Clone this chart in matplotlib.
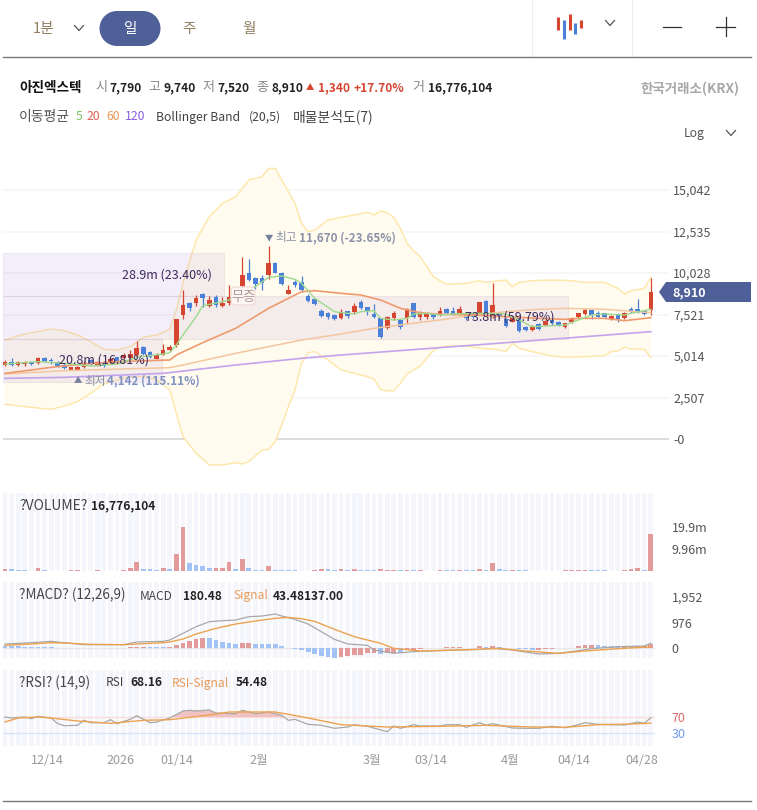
import matplotlib
matplotlib.use('Agg')
import matplotlib.pyplot as plt
from matplotlib.patches import FancyBboxPatch, Polygon
import numpy as np

plt.rcParams['font.family'] = ['Noto Sans CJK KR', 'DejaVu Sans']

# daily candles
opens = [4470,4630,4470,4530,4670,4610,4890,4770,4650,4470,
         4160,4170,4370,4770,4470,4610,4610,4930,4870,4870,
         5080,5580,5240,4850,5100,5380,5660,7490,8200,8240,
         8760,8040,8560,8040,8200,8250,9240,10010,9710,9730,
         9910,10610,10050,8780,9510,9510,8660,8440,7750,7630,
         7490,7290,7710,7670,8300,7960,7550,7290,6690,7290,
         7190,7290,8200,7350,7350,7530,7490,7850,7730,7590,
         7500,7600,7550,8360,7490,7630,7230,7090,7290,6790,
         6590,6930,6890,7190,7090,6750,7050,7350,7550,7790,
         7630,7590,7250,7570,7290,7860,7830,7750,7790]
highs = [4770,4870,4730,4710,4710,4970,4930,4870,4690,4570,
         4350,4390,4690,4810,4710,4710,4910,4970,5180,5380,
         5940,5620,5300,5180,5720,5660,7270,9000,8300,8700,
         8840,8640,8680,8600,9280,8500,11020,10860,9770,9930,
         11670,10690,10110,9300,9610,9850,8760,8500,7840,7670,
         7530,7830,7750,8200,8400,8000,8160,7330,7430,7710,
         7230,7900,8240,7750,7670,7590,7950,7900,7950,8040,
         7650,7700,8300,8400,9410,7700,7290,7400,7390,6850,
         6870,6990,7190,7230,7150,7030,7350,7630,7900,7830,
         7730,7630,7490,7630,7670,7950,8460,7790,9740]
lows = [4410,4410,4410,4410,4490,4530,4670,4530,4370,4210,
        4142,4150,4290,4450,4430,4330,4530,4570,4810,4810,
        4970,5100,4870,4810,5060,5340,5580,7230,7750,8040,
        8000,8000,8000,8000,8100,8200,9200,9570,9080,9000,
        9650,10010,9280,8740,9200,8900,8260,8080,7390,7270,
        7170,7250,7290,7550,7830,7490,7290,6080,6650,7190,
        6630,6990,7290,7190,7230,7270,7450,7550,7470,7530,
        7200,7300,7490,7550,7290,7300,6790,7050,6490,6550,
        6550,6590,6850,6890,6810,6710,6990,7310,7510,7250,
        7350,7290,7210,7090,7230,7590,7590,7510,7520]
closes = [4670,4450,4650,4650,4530,4910,4710,4710,4430,4270,
          4330,4370,4610,4530,4650,4430,4810,4710,5080,5140,
          5520,5140,4930,5080,5380,5580,7230,8100,7920,8540,
          8500,8400,8080,8240,8560,8400,9910,9610,9370,9450,
          10610,10050,9350,8980,9300,9000,8320,8160,7450,7350,
          7230,7690,7430,8040,7900,7750,7350,6180,7350,7590,
          6750,7830,7350,7670,7590,7390,7750,7590,7510,7830,
          7300,7400,8260,7590,8100,7350,6830,7350,6550,6590,
          6790,6650,7150,6990,6850,6990,7290,7590,7790,7490,
          7390,7350,7450,7250,7590,7650,7650,7550,8910]

# bollinger band
bb_up_x = [0,2,4,7,9,11,13,15,17,19,21,23,25,26,27,29,31,33,35,37,39,40,41,42,44,45,46,47,49,51,
           55,56,57,58,59,60,61,62,63,64,65,66,67,68,70,72,73,75,76,77,78,80,83,86,88,91,93,94,95,97,98]
bb_up = [5981,6243,6424,6646,6545,6283,5881,5418,5377,5578,6143,6283,6626,7794,9405,12023,13433,14239,14642,15649,15850,16354,16354,15649,14239,13030,12527,12628,13232,13393,
         13695,13534,13776,13675,13393,12728,11822,11379,11016,10412,9808,9566,9365,9365,9405,9566,9466,9566,9607,9204,9466,9566,9607,9566,9466,9466,9103,8761,8962,9103,9768]
bb_lo_x = [0,4,7,9,11,13,15,17,19,21,23,25,26,27,29,31,33,35,36,37,39,40,41,42,43,44,45,46,47,49,51,
           53,55,56,57,58,59,60,61,62,63,64,65,66,67,70,72,74,75,76,77,78,80,83,85,88,91,92,93,94,95,97,98]
bb_lo = [2094,1913,1792,1994,2256,2759,3323,3565,3766,3766,3565,2960,1550,140,-866,-1571,-1571,-1430,-1510,-1370,-665,-625,-161,846,1953,2960,4572,5216,5277,4773,4169,
         3967,3766,3605,3001,2900,2920,3363,3927,4169,4410,4874,5337,5538,5619,5619,5478,5438,5377,5277,5780,5478,5277,5015,4934,4974,5035,5277,5317,5538,5438,5418,4914]

# moving averages
ma5_x = [0,5,9,13,17,20,24,25,26,27,29,30,33,34,36,38,40,42,44,45,47,50,51,53,54,56,57,59,61,62,64,66,68,71,73,76,78,80,82,85,87,89,91,94,95,98]
ma5 = [4531,4672,4572,4410,4531,4934,5136,5216,5679,6283,7391,8056,8298,8398,8902,9204,9768,9848,9647,9405,8499,7693,7633,7552,7693,7754,7290,7190,7290,7552,7593,7492,7552,7593,7593,7552,7190,6787,6827,6888,7190,7492,7552,7492,7593,7835]
ma20_x = [0,4,7,12,17,25,26,30,35,40,45,47,51,54,57,60,63,66,71,76,81,85,87,91,94,98]
ma20 = [3967,4169,4330,4531,4672,4773,5075,5820,6686,7895,8902,8962,8801,8700,8398,7895,7633,7532,7492,7391,7290,7230,7290,7290,7150,7331]
ma60_x = [0,9,25,27,35,40,45,51,56,61,66,70,76,81,85,91,98]
ma60 = [3927,4128,4310,4471,5176,5578,5981,6344,6686,6948,7190,7431,7693,7835,7895,7835,7633]
ma120_x = [0,9,24,35,45,51,70,98]
ma120 = [3665,3726,3967,4471,4874,5075,5639,6485]

# price tick labels
price_ticks = [0,2507,5014,7521,10028,12535,15042]
price_labels = ['-0','2,507','5,014','7,521','10,028','12,535','15,042']

# volume profile: bands and volume in millions
vp_low = [3440,6060,8640]
vp_high = [6060,8640,11240]
vp_vol = [20.8,73.8,28.9]
vp_labels = ['20.8m (16.81%)','73.8m (59.79%)','28.9m (23.40%)']

# volume in millions
volume = [.9,.7,.3,.3,.2,1.5,.3,.2,.2,.2,
          .3,.3,.2,.2,.3,.2,.2,.2,.3,1.5,
          3.9,.9,.9,.5,1.5,.9,7.5,19.9,3.5,2.7,
          2.3,1.5,1.4,1.4,4.2,.9,5.4,1.4,.3,.3,
          2.4,.3,.3,.3,.3,.2,.2,.3,.9,.8,
          .3,.9,.3,.9,.3,.3,.3,.8,.3,.3,
          .3,.3,.3,.3,.1,.1,.3,.3,.3,.3,
          .3,.3,.9,.3,3.8,.9,.3,.3,.3,.3,
          .1,.1,.1,.1,.1,.3,.3,.3,.3,.3,
          .3,.3,.1,.1,.4,.9,1.3,.3,16.776]
volume_dir = ('rbbbbrbbbrrrrbrbrbrrrbbbrbrrbbbbrrrbrbbbrbbbbbrrrbbrbrbbbrrrbrbrr'
              'brbbrbbrbrbbrbbrbrbbrrrrbbbrbrrrbr')

# macd
macd_x = [0,4,7,9,12,18,20,24,25,27,29,31,33,35,37,39,41,42,44,46,48,50,52,55,56,59,62,66,72,74,77,81,84,87,89,93,97,98]
macd = [153,204,255,204,128,128,230,255,306,561,817,1008,1046,1072,1199,1225,1302,1225,1097,919,625,332,153,102,-77,-204,-140,-102,-51,-13,-77,-230,-204,-102,-26,51,77,180]
signal_x = [0,4,7,10,13,18,24,25,27,29,32,35,38,41,43,45,47,50,53,56,57,59,63,72,75,79,84,88,93,98]
signal = [102,153,204,179,140,128,204,230,345,536,753,919,1034,1136,1174,1123,1021,715,434,243,179,-13,-115,-51,-13,-115,-204,-115,-26,43]
macd_hist = [64,64,64,51,38,38,38,26,13,0,0,0,0,0,0,0,0,0,0,
             38,51,38,26,26,26,38,102,191,281,357,383,383,293,230,204,166,204,204,166,166,166,166,77,
             -13,-38,-77,-153,-230,-319,-357,-383,-357,-319,-281,-255,-204,-179,-230,-191,-191,-179,-77,-64,-51,
             0,0,0,26,26,26,13,0,77,38,77,38,0,0,-38,-38,-64,-64,-38,-26,-13,0,0,
             64,128,128,128,77,64,64,51,51,64,64,153]
hist_dir = ('b'*19 + 'rrr' + 'bbb' + 'r'*6 + 'b'*5 + 'rr' + 'b'*13 + 'r'*6 + 'b' + 'rr' + 'b' + 'rrr'
            + 'bbb' + 'rrr' + 'bb' + 'r' + 'b' + 'r' + 'b'*6 + 'r'*4 + 'bb' + 'rrr' + 'b'*4 + 'r'*5)

# rsi
rsi_x = [0,1,3,4,5,7,8,9,11,12,13,15,16,17,19,20,22,23,25,27,28,29,31,32,35,36,38,40,42,43,44,46,48,50,52,53,55,58,59,60,62,63,66,67,69,70,72,73,74,77,79,81,83,85,87,88,90,94,96,97,98]
rsi = [70,67.5,70,65.8,71.7,67.5,53.3,48.3,49.2,61.7,55.8,55.8,63.3,53.3,64.2,73.3,55.8,57.5,67.5,85,86.7,85,87.5,80,78.3,86.7,78.3,82.5,74.2,61.7,64.2,51.7,49.2,41.7,45,50.8,46.7,33.3,47.5,41.7,50.8,47.5,47.5,50.8,50.8,44.2,55.8,49.2,53.3,42.5,41.7,41.7,46.7,43.3,50.8,55.8,51.7,50,57.5,54.2,68.16]
rsi_sig_x = [0,2,5,7,11,16,21,25,31,34,41,43,46,51,58,66,73,80,85,90,95,98]
rsi_sig = [57.5,67.5,70,67.5,60,54.2,61.7,63.3,75,82.5,82.5,76.7,67.5,50.8,45,46.7,49.2,45,44.2,50.8,52.5,54.48]

# date labels
date_pos = [6.5,17.5,26,38.5,55.7,64.6,76.6,86.3,96.7]
date_labels = ['12/14','2026','01/14','2월','3월','03/14','4월','04/14','04/28']

RED = '#d5452f'
BLUE = '#4a80d8'
BAR_RED = '#e39a9a'
BAR_BLUE = '#a3c2f5'
W, H = 757, 810
x_step = 6.59
x_first = 5

fig = plt.figure(figsize=(W/100, H/100), dpi=100)


def make_axes(left, top, right, bottom):
    a = fig.add_axes([left/W, 1-bottom/H, (right-left)/W, (bottom-top)/H])
    a.set_xlim((left-x_first)/x_step, (right-x_first)/x_step)
    a.patch.set_alpha(0)
    for s in a.spines.values():
        s.set_visible(False)
    a.set_xticks([])
    a.yaxis.tick_right()
    a.tick_params(axis='y', length=0)
    return a


def stripes(a, ymin, ymax):
    a.bar(range(len(closes)), ymax-ymin, bottom=ymin, width=0.72, color='#f4f6fb', zorder=0)


idx = np.arange(len(closes))
opens_a, closes_a = np.array(opens), np.array(closes)
candle_cols = [RED if c >= o else BLUE for o, c in zip(opens, closes)]

# PRICE
ax = make_axes(3, 160, 669, 470)
ax.set_ylim(-1873, 16858)
ax.set_yticks(price_ticks, price_labels, fontsize=9, color='#555555')
ax.tick_params(axis='y', pad=3)
for t in price_ticks[1:]:
    ax.axhline(t, color='#f6f6f6', lw=1.2, zorder=1)
ax.axhline(0, color='#dcdcdc', lw=1.4, zorder=1)

ax.fill(list(bb_up_x)+list(bb_lo_x[::-1]), list(bb_up)+list(bb_lo[::-1]), color='#fffbee', lw=0, zorder=2)
ax.plot(bb_up_x, bb_up, color='#fde6a6', lw=1.0, zorder=3)
ax.plot(bb_lo_x, bb_lo, color='#fde6a6', lw=1.0, zorder=3)

# horizontal volume profile, grows from the left edge
vp_scale = 565/73.8/x_step
vp_left = (3-x_first)/x_step
for lo, hi, v in zip(vp_low, vp_high, vp_vol):
    ax.barh((lo+hi)/2, v*vp_scale, height=hi-lo, left=vp_left, color=(0.667, 0.47, 0.863, 0.12),
            edgecolor=(0.55, 0.4, 0.6, 0.1), lw=0.8, zorder=4)

ax.vlines(idx, lows, highs, colors=candle_cols, lw=0.9, zorder=5)
ax.bar(idx, np.abs(closes_a-opens_a), bottom=np.minimum(opens_a, closes_a), width=0.7, color=candle_cols, zorder=6)

ax.plot(ma120_x, ma120, color='#c3a3ec', lw=1.2, zorder=7)
ax.plot(ma60_x, ma60, color='#f3c6a0', lw=1.1, zorder=7)
ax.plot(ma20_x, ma20, color='#ef9a6e', lw=1.2, zorder=7)
ax.plot(ma5_x, ma5, color='#9dd98c', lw=1.0, zorder=7)

# VOLUME
ax_v = make_axes(3, 493, 655, 571)
ax_v.set_ylim(0, 35.45)
stripes(ax_v, 0, 35.45)
ax_v.bar(idx, volume, width=0.72, color=[BAR_RED if d == 'r' else BAR_BLUE for d in volume_dir], zorder=2)
ax_v.set_yticks([9.96, 19.9], ['9.96m', '19.9m'], fontsize=9, color='#555555')
ax_v.tick_params(axis='y', pad=12)

# MACD
ax_m = make_axes(3, 582, 655, 658)
ax_m.set_ylim(-383, 2529)
stripes(ax_m, -383, 2529)
ax_m.axhline(0, color='#e8e8e8', lw=1.0, zorder=1)
ax_m.bar(idx, macd_hist, width=0.72, color=[BAR_RED if d == 'r' else BAR_BLUE for d in hist_dir], zorder=2)
ax_m.plot(macd_x, macd, color='#a8a8a8', lw=0.9, zorder=3)
ax_m.plot(signal_x, signal, color='#eda24f', lw=1.0, zorder=4)
ax_m.set_yticks([0, 976, 1952], ['0', '976', '1,952'], fontsize=9, color='#555555')
ax_m.tick_params(axis='y', pad=12)

# RSI
ax_r = make_axes(3, 670, 655, 746)
ax_r.set_ylim(-2.5, 187.5)
stripes(ax_r, -2.5, 187.5)
ax_r.axhline(70, color='#f9dcdc', lw=1.0, zorder=1)
ax_r.axhline(30, color='#d5e3fb', lw=1.0, zorder=1)
ax_r.fill_between(rsi_x, rsi, 70, where=np.array(rsi) > 70, interpolate=True, color='#eeb4b4', alpha=0.8, lw=0, zorder=2)
ax_r.plot(rsi_x, rsi, color='#a8a8a8', lw=0.9, zorder=3)
ax_r.plot(rsi_sig_x, rsi_sig, color='#eda24f', lw=1.0, zorder=4)
ax_r.set_yticks([30, 70], ['30', '70'], fontsize=9)
ax_r.get_yticklabels()[0].set_color('#6f9cf0')
ax_r.get_yticklabels()[1].set_color('#e06a6a')
ax_r.tick_params(axis='y', pad=12)
ax_r.set_xticks(date_pos, date_labels, fontsize=9, color='#9a9a9a')
ax_r.tick_params(axis='x', length=0, pad=6)

# everything around the chart, in pixels
ui = fig.add_axes([0, 0, 1, 1], zorder=10)
ui.set_xlim(0, W)
ui.set_ylim(H, 0)
ui.axis('off')
ui.patch.set_alpha(0)


def txt(x, y, s, size=9, color='#222222', bold=False, ha='left'):
    ui.text(x, y, s, fontsize=size, color=color, ha=ha, va='center', fontweight='bold' if bold else 'normal')


def chevron(x, y, color='#555555'):
    ui.plot([x-4.5, x, x+4.5], [y-2.5, y+2.5, y-2.5], color=color, lw=0.9)


BROWN = '#8f7d5f'
GREY = '#888888'
# top bar
txt(43, 29, '1분', 10.5, BROWN, ha='center')
chevron(79, 28)
ui.add_patch(plt.Rectangle((117, 11), 26, 35, fc='#4f5f97', ec='none'))
ui.add_patch(plt.Circle((117, 28.5), 17.5, fc='#4f5f97', ec='none'))
ui.add_patch(plt.Circle((143, 28.5), 17.5, fc='#4f5f97', ec='none'))
txt(131, 29, '일', 10.5, 'white', ha='center')
txt(189, 29, '주', 10.5, BROWN, ha='center')
txt(249, 29, '월', 10.5, BROWN, ha='center')
ui.plot([532, 532], [0, 57], color='#eeeeee', lw=0.8)
ui.plot([632, 632], [0, 57], color='#eeeeee', lw=0.8)
for x0, y0, y1, c in [(558, 17, 30, RED), (564, 20, 39, BLUE), (569.5, 14, 30, RED), (575, 23, 34, BLUE), (580.5, 20, 28, RED)]:
    ui.plot([x0, x0], [y0, y1], color=c, lw=2.2, solid_capstyle='butt')
chevron(610, 23)
ui.plot([663, 681], [26.5, 26.5], color='#333333', lw=0.9)
ui.plot([716, 735], [26.5, 26.5], color='#333333', lw=0.9)
ui.plot([725.5, 725.5], [17, 36], color='#333333', lw=0.9)
ui.plot([3, 751], [57, 57], color='#777777', lw=1.0)
ui.plot([3, 751], [801, 801], color='#777777', lw=1.0)

# quote line
txt(19, 88, '아진엑스텍', 9.8, '#111111', True)
txt(95, 88, '시', 9.4, GREY)
txt(109, 88, '7,790', 8.6, '#222222', True)
txt(148, 88, '고', 9.4, GREY)
txt(163, 88, '9,740', 8.6, '#222222', True)
txt(202, 88, '저', 9.4, GREY)
txt(217, 88, '7,520', 8.6, '#222222', True)
txt(256, 88, '종', 9.4, GREY)
txt(271, 88, '8,910', 8.6, '#222222', True)
txt(306, 88, '▲', 6, RED)
txt(318, 88, '1,340', 8.6, RED, True)
txt(354, 88, '+17.70%', 8.6, RED, True)
txt(412, 88, '거', 9.4, GREY)
txt(428, 88, '16,776,104', 8.6, '#222222', True)
txt(739, 89, '한국거래소(KRX)', 9.7, '#a8a8a8', True, ha='right')

# indicator line
txt(19, 117, '이동평균', 10, '#555555')
txt(76, 117, '5', 8.8, '#7fbf63')
txt(87, 117, '20', 8.8, '#e0604f')
txt(106, 117, '60', 8.8, '#e8995a')
txt(125, 117, '120', 8.8, '#8a5fe0')
txt(156, 117, 'Bollinger Band', 8.8, '#444444')
txt(249, 117, '(20,5)', 8.8, '#444444')
txt(293, 117, '매물분석도(7)', 10, '#444444')
txt(684, 133, 'Log', 8.8, '#555555')
chevron(731, 133)

# marks on the price chart
ui.text(122, 275, vp_labels[2], fontsize=9, color='#3d2a5c', va='center')
ui.text(59, 360, vp_labels[0], fontsize=9, color='#3d2a5c', va='center')
ui.text(465, 317, vp_labels[1], fontsize=9, color='#3d2a5c', va='center')
txt(265, 238, '▼', 6, '#76819c')
txt(275, 238, '최고', 8.4, '#8a92a8')
txt(299, 238, '11,670 (-23.65%)', 8.4, '#8a92a8', True)
txt(74, 381, '▲', 6, '#76819c')
txt(84, 381, '최저', 8.4, '#8a92a8')
txt(107, 381, '4,142 (115.11%)', 8.4, '#8090c0', True)
ui.add_patch(FancyBboxPatch((233, 289), 20, 14, boxstyle='round,pad=2,rounding_size=4', fc='#fdf6f3', ec='#eed8d4', lw=0.8))
txt(243, 297, '무증', 9.5, '#b09a98', ha='center')

# current price tag
ui.add_patch(Polygon([[659, 292], [666, 282], [751, 282], [751, 302], [666, 302]], closed=True, fc='#4f5f97', ec='none'))
txt(672, 293, '8,910', 9, 'white', True)

# panel headers
txt(19, 506, '?VOLUME?', 10, '#444444')
txt(91, 506, '16,776,104', 8.6, '#222222', True)
txt(19, 595, '?MACD? (12,26,9)', 9.7, '#444444')
txt(140, 596, 'MACD', 8.6, '#444444')
txt(183, 596, '180.48', 8.6, '#222222', True)
txt(233, 596, 'Signal', 8.6, '#e8995a')
txt(273, 596, '43.48137.00', 8.6, '#222222', True)
txt(19, 683, '?RSI? (14,9)', 9.6, '#444444')
txt(106, 683, 'RSI', 8.6, '#444444')
txt(130, 683, '68.16', 8.6, '#222222', True)
txt(172, 683, 'RSI-Signal', 8.6, '#e8995a')
txt(236, 683, '54.48', 8.6, '#222222', True)

fig.savefig('out.png', dpi=100)
